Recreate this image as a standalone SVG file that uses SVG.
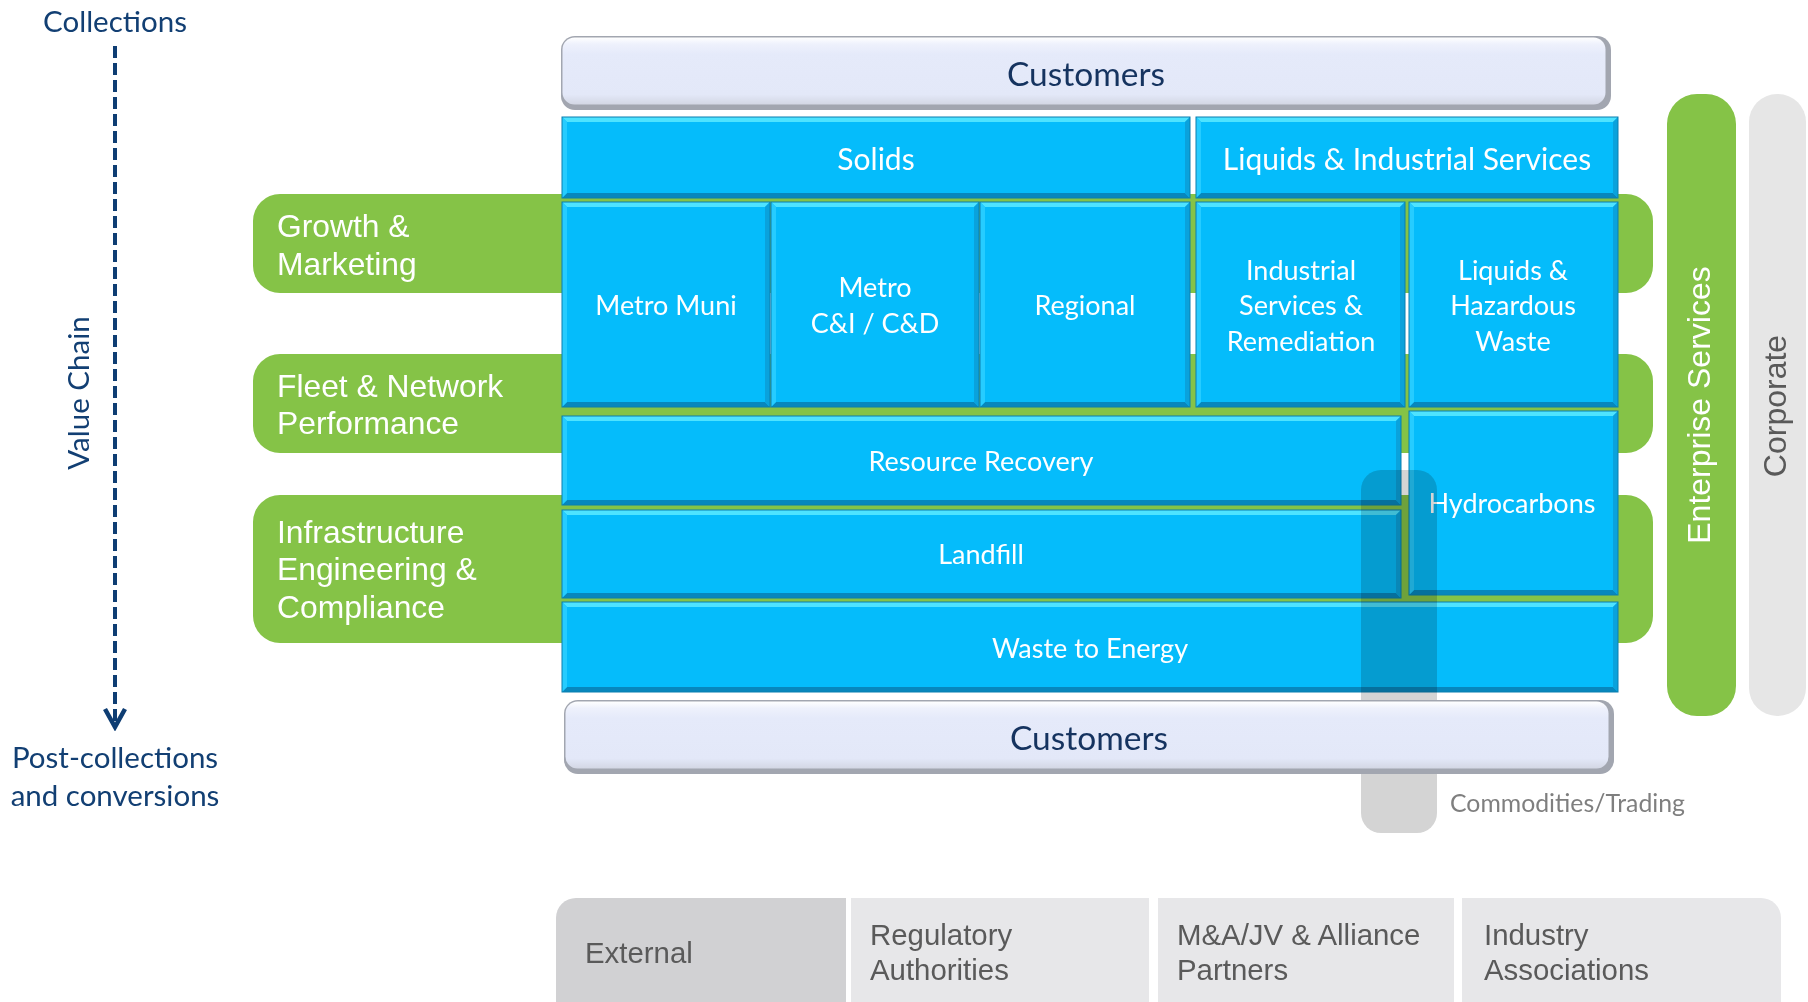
<svg xmlns="http://www.w3.org/2000/svg" width="1808" height="1002" viewBox="0 0 1808 1002">
  <defs>
    <linearGradient id="custFace" x1="0" y1="0" x2="0" y2="1">
      <stop offset="0" stop-color="#ffffff"/>
      <stop offset="0.1" stop-color="#eef1fc"/>
      <stop offset="0.25" stop-color="#e5eafa"/>
      <stop offset="0.85" stop-color="#e3e8f8"/>
      <stop offset="1" stop-color="#d3d7e4"/>
    </linearGradient>
    <marker id="arrowOpen" markerUnits="userSpaceOnUse" viewBox="0 0 24 24" markerWidth="24" markerHeight="24" refX="20" refY="12" orient="auto">
      <path d="M2 2 L20 12 L2 22" fill="none" stroke="#0e3d73" stroke-width="4.5"/>
    </marker>
  </defs>
  <style>
    .cal { font-family: Lato, "Open Sans", "DejaVu Sans", sans-serif; }
    .ari { font-family: "Liberation Sans", Arial, sans-serif; }
    .navy { fill: #123f73; font-size: 29.5px; text-anchor: middle; }
    .band { fill: #85c347; }
    .face { fill: #05bcfb; }
    .bt { fill: #4ee3ff; }
    .bl { fill: #26ccff; }
    .br { fill: #0aa2dc; }
    .bb { fill: #0787bd; }
    .edge { fill: none; stroke: #0b7eaf; stroke-width: 1; }
    .blk { fill: #ffffff; font-size: 27px; text-anchor: middle; }
    .head { fill: #ffffff; font-size: 30px; text-anchor: middle; }
    .cust-edge { fill: #a2a6b0; }
    .cust-face { fill: url(#custFace); }
    .cust-txt { fill: #15335f; font-size: 33.5px; text-anchor: middle; }
    .lbl { fill: #ffffff; font-size: 31.8px; }
    .col-txt { font-size: 32px; text-anchor: middle; }
    .ext { fill: #e7e7e9; }
    .ext-dark { fill: #d1d1d3; }
    .ext-txt { fill: #5a5a5a; font-size: 29.4px; }
  </style>

  <!-- value chain axis labels -->
  <g id="value-chain">
    <text class="cal navy" x="115" y="32">Collections</text>
    <text class="cal navy" font-size="29px" transform="translate(89,393) rotate(-90)">Value Chain</text>
    <text class="cal navy"><tspan x="115" y="768">Post-collections</tspan><tspan x="115" y="806">and conversions</tspan></text>
  </g>

  <!-- horizontal capability bands running behind the grid -->
  <g id="growth-marketing">
    <rect class="band" x="253" y="194" width="1400" height="99" rx="27"/>
    <text class="ari lbl"><tspan x="277" y="237">Growth &amp;</tspan><tspan x="277" y="275">Marketing</tspan></text>
  </g>
  <g id="fleet-network">
    <rect class="band" x="253" y="354" width="1400" height="99" rx="27"/>
    <text class="ari lbl"><tspan x="277" y="397">Fleet &amp; Network</tspan><tspan x="277" y="434">Performance</tspan></text>
  </g>
  <g id="infrastructure">
    <rect class="band" x="253" y="495" width="1400" height="148" rx="27"/>
    <text class="ari lbl"><tspan x="277" y="543">Infrastructure</tspan><tspan x="277" y="580">Engineering &amp;</tspan><tspan x="277" y="618">Compliance</tspan></text>
  </g>

  <!-- customers, top -->
  <g id="customers-top">
    <rect class="cust-edge" x="561" y="36" width="1050" height="74" rx="14"/>
    <rect class="cust-face" x="562.5" y="37.5" width="1043" height="67" rx="12"/>
    <text class="cal cust-txt" x="1086" y="86">Customers</text>
  </g>

  <!-- business line blocks -->
  <g id="solids">
    <rect class="face" x="562" y="117" width="628" height="81"/>
    <path class="bt" d="M562 117h628l-5 5h-618z"/>
    <path class="bb" d="M562 198h628l-5-5h-618z"/>
    <path class="bl" d="M562 117l5 5v71l-5 5z"/>
    <path class="br" d="M1190 117l-5 5v71l5 5z"/>
    <rect class="edge" x="562" y="117" width="628" height="81"/>
    <text class="cal head" x="876" y="170" font-size="31.5px">Solids</text>
  </g>
  <g id="liquids-industrial">
    <rect class="face" x="1196" y="117" width="422" height="81"/>
    <path class="bt" d="M1196 117h422l-5 5h-412z"/>
    <path class="bb" d="M1196 198h422l-5-5h-412z"/>
    <path class="bl" d="M1196 117l5 5v71l-5 5z"/>
    <path class="br" d="M1618 117l-5 5v71l5 5z"/>
    <rect class="edge" x="1196" y="117" width="422" height="81"/>
    <text class="cal head" x="1407" y="170">Liquids &amp; Industrial Services</text>
  </g>
  <g id="metro-muni">
    <rect class="face" x="562" y="202" width="208" height="205"/>
    <path class="bt" d="M562 202h208l-5 5h-198z"/>
    <path class="bb" d="M562 407h208l-5-5h-198z"/>
    <path class="bl" d="M562 202l5 5v195l-5 5z"/>
    <path class="br" d="M770 202l-5 5v195l5 5z"/>
    <rect class="edge" x="562" y="202" width="208" height="205"/>
    <text class="cal blk" x="666" y="315">Metro Muni</text>
  </g>
  <g id="metro-ci-cd">
    <rect class="face" x="771" y="202" width="208" height="205"/>
    <path class="bt" d="M771 202h208l-5 5h-198z"/>
    <path class="bb" d="M771 407h208l-5-5h-198z"/>
    <path class="bl" d="M771 202l5 5v195l-5 5z"/>
    <path class="br" d="M979 202l-5 5v195l5 5z"/>
    <rect class="edge" x="771" y="202" width="208" height="205"/>
    <text class="cal blk"><tspan x="875" y="297">Metro</tspan><tspan x="875" y="333">C&amp;I / C&amp;D</tspan></text>
  </g>
  <g id="regional">
    <rect class="face" x="980" y="202" width="210" height="205"/>
    <path class="bt" d="M980 202h210l-5 5h-200z"/>
    <path class="bb" d="M980 407h210l-5-5h-200z"/>
    <path class="bl" d="M980 202l5 5v195l-5 5z"/>
    <path class="br" d="M1190 202l-5 5v195l5 5z"/>
    <rect class="edge" x="980" y="202" width="210" height="205"/>
    <text class="cal blk" x="1085" y="315">Regional</text>
  </g>
  <g id="industrial-services">
    <rect class="face" x="1196" y="202" width="209" height="205"/>
    <path class="bt" d="M1196 202h209l-5 5h-199z"/>
    <path class="bb" d="M1196 407h209l-5-5h-199z"/>
    <path class="bl" d="M1196 202l5 5v195l-5 5z"/>
    <path class="br" d="M1405 202l-5 5v195l5 5z"/>
    <rect class="edge" x="1196" y="202" width="209" height="205"/>
    <text class="cal blk"><tspan x="1301" y="280">Industrial</tspan><tspan x="1301" y="315">Services &amp;</tspan><tspan x="1301" y="351">Remediation</tspan></text>
  </g>
  <g id="liquids-hazardous">
    <rect class="face" x="1409" y="202" width="209" height="205"/>
    <path class="bt" d="M1409 202h209l-5 5h-199z"/>
    <path class="bb" d="M1409 407h209l-5-5h-199z"/>
    <path class="bl" d="M1409 202l5 5v195l-5 5z"/>
    <path class="br" d="M1618 202l-5 5v195l5 5z"/>
    <rect class="edge" x="1409" y="202" width="209" height="205"/>
    <text class="cal blk"><tspan x="1513" y="280">Liquids &amp;</tspan><tspan x="1513" y="315">Hazardous</tspan><tspan x="1513" y="351">Waste</tspan></text>
  </g>
  <g id="resource-recovery">
    <rect class="face" x="562" y="416" width="839" height="89"/>
    <path class="bt" d="M562 416h839l-5 5h-829z"/>
    <path class="bb" d="M562 505h839l-5-5h-829z"/>
    <path class="bl" d="M562 416l5 5v79l-5 5z"/>
    <path class="br" d="M1401 416l-5 5v79l5 5z"/>
    <rect class="edge" x="562" y="416" width="839" height="89"/>
    <text class="cal blk" x="981" y="471">Resource Recovery</text>
  </g>
  <g id="landfill">
    <rect class="face" x="562" y="510" width="839" height="88"/>
    <path class="bt" d="M562 510h839l-5 5h-829z"/>
    <path class="bb" d="M562 598h839l-5-5h-829z"/>
    <path class="bl" d="M562 510l5 5v78l-5 5z"/>
    <path class="br" d="M1401 510l-5 5v78l5 5z"/>
    <rect class="edge" x="562" y="510" width="839" height="88"/>
    <text class="cal blk" x="981" y="564">Landfill</text>
  </g>
  <g id="hydrocarbons">
    <rect class="face" x="1409" y="411" width="209" height="184"/>
    <path class="bt" d="M1409 411h209l-5 5h-199z"/>
    <path class="bb" d="M1409 595h209l-5-5h-199z"/>
    <path class="bl" d="M1409 411l5 5v174l-5 5z"/>
    <path class="br" d="M1618 411l-5 5v174l5 5z"/>
    <rect class="edge" x="1409" y="411" width="209" height="184"/>
    <text class="cal blk" x="1512" y="513">Hydrocarbons</text>
  </g>
  <g id="waste-to-energy">
    <rect class="face" x="562" y="602" width="1056" height="90"/>
    <path class="bt" d="M562 602h1056l-5 5h-1046z"/>
    <path class="bb" d="M562 692h1056l-5-5h-1046z"/>
    <path class="bl" d="M562 602l5 5v80l-5 5z"/>
    <path class="br" d="M1618 602l-5 5v80l5 5z"/>
    <rect class="edge" x="562" y="602" width="1056" height="90"/>
    <text class="cal blk" x="1090" y="658">Waste to Energy</text>
  </g>

  <!-- commodities / trading overlay strip -->
  <g id="commodities-trading">
    <rect x="1361" y="470" width="76" height="363" rx="20" fill="#d4d4d4" style="mix-blend-mode:multiply"/>
    <text class="cal" x="1450" y="812" font-size="24.8" fill="#7f7f7f">Commodities/Trading</text>
  </g>

  <!-- customers, bottom -->
  <g id="customers-bottom">
    <rect class="cust-edge" x="564" y="700" width="1050" height="74" rx="14"/>
    <rect class="cust-face" x="565.5" y="701.5" width="1043" height="67" rx="12"/>
    <text class="cal cust-txt" x="1089" y="750">Customers</text>
  </g>

  <!-- vertical service columns -->
  <g id="enterprise-services">
    <rect class="band" x="1667" y="94" width="69" height="622" rx="30"/>
    <text class="ari col-txt" fill="#ffffff" transform="translate(1710,405) rotate(-90)">Enterprise Services</text>
  </g>
  <g id="corporate">
    <rect x="1749" y="94" width="57" height="622" rx="28" fill="#e6e6e6"/>
    <text class="ari col-txt" fill="#595959" transform="translate(1786,406) rotate(-90)">Corporate</text>
  </g>

  <!-- external stakeholders strip -->
  <g id="external">
    <path class="ext-dark" d="M556 1010V918a20 20 0 0 1 20-20H846V1010z"/>
    <text class="ari ext-txt" x="585" y="963">External</text>
  </g>
  <g id="regulatory-authorities">
    <rect class="ext" x="851" y="898" width="298" height="112"/>
    <text class="ari ext-txt"><tspan x="870" y="945">Regulatory</tspan><tspan x="870" y="980">Authorities</tspan></text>
  </g>
  <g id="alliance-partners">
    <rect class="ext" x="1158" y="898" width="296" height="112"/>
    <text class="ari ext-txt"><tspan x="1177" y="945">M&amp;A/JV &amp; Alliance</tspan><tspan x="1177" y="980">Partners</tspan></text>
  </g>
  <g id="industry-associations">
    <path class="ext" d="M1462 1010V898H1761a20 20 0 0 1 20 20V1010z"/>
    <text class="ari ext-txt"><tspan x="1484" y="945">Industry</tspan><tspan x="1484" y="980">Associations</tspan></text>
  </g>

  <!-- connectors -->
  <g id="connectors">
    <line x1="115" y1="46" x2="115" y2="727" stroke="#0e3d73" stroke-width="4" stroke-dasharray="12 5" marker-end="url(#arrowOpen)"/>
  </g>
</svg>
